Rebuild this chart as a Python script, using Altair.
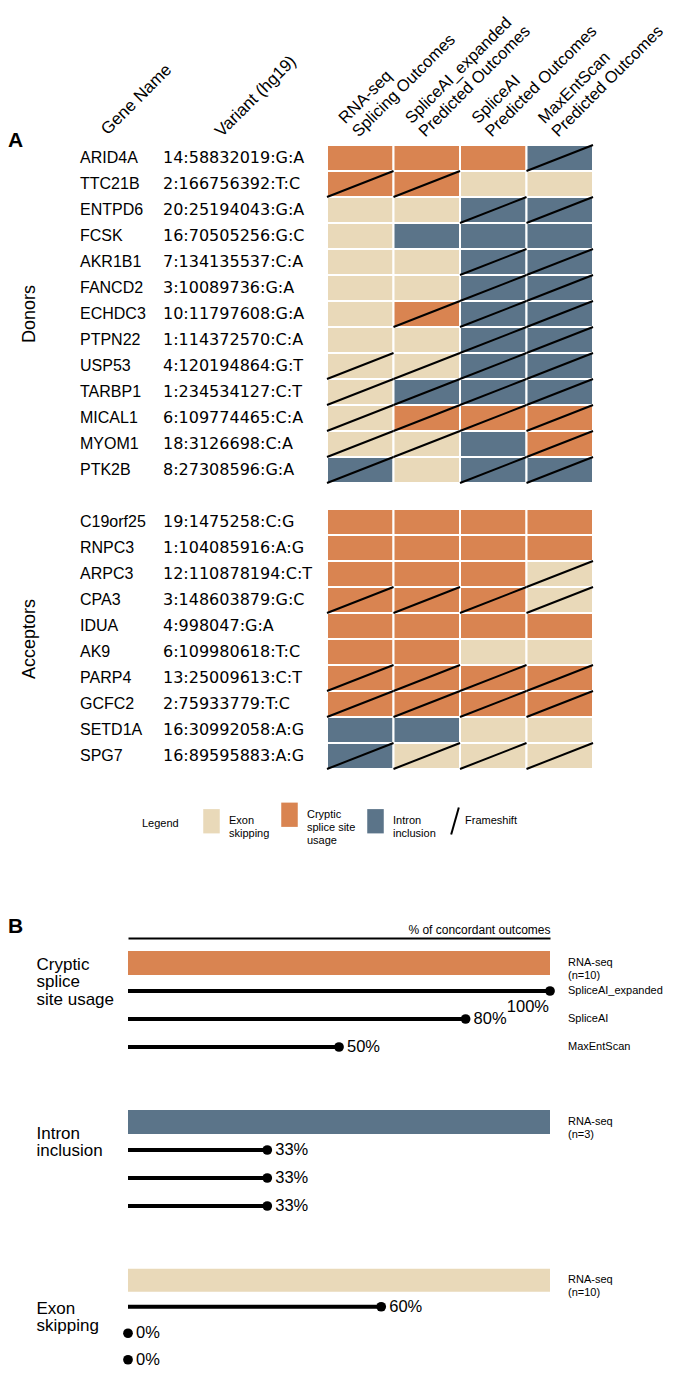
import json
import altair as alt
import pandas as pd

FONT = "Liberation Sans"
VAR_FONT = "DejaVu Sans"

# ---------------- Panel A data ----------------
GROUPS = ["Donors", "Acceptors"]
DONOR_GENES = ["ARID4A", "TTC21B", "ENTPD6", "FCSK", "AKR1B1", "FANCD2", "ECHDC3",
               "PTPN22", "USP53", "TARBP1", "MICAL1", "MYOM1", "PTK2B"]
DONOR_VARIANTS = ["14:58832019:G:A", "2:166756392:T:C", "20:25194043:G:A", "16:70505256:G:C",
                  "7:134135537:C:A", "3:10089736:G:A", "10:11797608:G:A", "1:114372570:C:A",
                  "4:120194864:G:T", "1:234534127:C:T", "6:109774465:C:A", "18:3126698:C:A",
                  "8:27308596:G:A"]
ACCEPTOR_GENES = ["C19orf25", "RNPC3", "ARPC3", "CPA3", "IDUA", "AK9", "PARP4", "GCFC2",
                  "SETD1A", "SPG7"]
ACCEPTOR_VARIANTS = ["19:1475258:C:G", "1:104085916:A:G", "12:110878194:C:T", "3:148603879:G:C",
                     "4:998047:G:A", "6:109980618:T:C", "13:25009613:C:T", "2:75933779:T:C",
                     "16:30992058:A:G", "16:89595883:A:G"]
# E = exon skipping, C = cryptic splice site usage, I = intron inclusion, * = frameshift
# columns: RNA-seq, SpliceAI_expanded, SpliceAI, MaxEntScan
DONOR_OUTCOMES = [
    ["C", "C", "C", "I*"],
    ["C*", "C*", "E", "E"],
    ["E", "E", "I*", "I*"],
    ["E", "I", "I", "I"],
    ["E", "E", "I*", "I*"],
    ["E", "E", "I*", "I*"],
    ["E", "C*", "I*", "I*"],
    ["E", "E", "I*", "I*"],
    ["E*", "E*", "I*", "I*"],
    ["E*", "I*", "I*", "I*"],
    ["E*", "C*", "C*", "C*"],
    ["E*", "E*", "I", "C*"],
    ["I*", "E", "I*", "I*"],
]
ACCEPTOR_OUTCOMES = [
    ["C", "C", "C", "C"],
    ["C", "C", "C", "C"],
    ["C", "C", "C", "E*"],
    ["C*", "C*", "C*", "E*"],
    ["C", "C", "C", "C"],
    ["C", "C", "E", "E"],
    ["C*", "C*", "C*", "C*"],
    ["C*", "C*", "C*", "C*"],
    ["I", "I", "E", "E"],
    ["I*", "E*", "E*", "E*"],
]
OUTCOME_CODES = ["E", "C", "I"]
OUTCOME_NAMES = ["Exon skipping", "Cryptic splice site usage", "Intron inclusion"]
OUTCOME_COLORS = ["#E9D9B9", "#D98451", "#5B7489"]
LEGEND_LINES = [["Exon", "skipping"], ["Cryptic", "splice site", "usage"], ["Intron", "inclusion"]]
LEGEND_TITLE = "Legend"
FRAMESHIFT_LABEL = "Frameshift"
COL_HEADERS = ["Gene Name", "Variant (hg19)"]
METHOD_HEADERS = [["RNA-seq", "Splicing Outcomes"], ["SpliceAI_expanded", "Predicted Outcomes"],
                  ["SpliceAI", "Predicted Outcomes"], ["MaxEntScan", "Predicted Outcomes"]]

# ---------------- Panel B data ----------------
B_GROUPS = ["Cryptic splice site usage", "Intron inclusion", "Exon skipping"]
B_GROUP_LINES = [["Cryptic", "splice", "site usage"], ["Intron", "inclusion"], ["Exon", "skipping"]]
B_RNASEQ_N = [10, 3, 10]
B_RNASEQ_PCT = [100, 100, 100]
B_METHODS = ["RNA-seq", "SpliceAI_expanded", "SpliceAI", "MaxEntScan"]
B_CONCORDANCE = [[100, 80, 50], [33, 33, 33], [60, 0, 0]]
B_AXIS_TITLE = "% of concordant outcomes"

# ---------------- tables ----------------
code_to_name = dict(zip(OUTCOME_CODES, OUTCOME_NAMES))
row_recs, cell_recs = [], []
r = 0
for gi, (grp, genes, variants, outs) in enumerate(zip(
        GROUPS, [DONOR_GENES, ACCEPTOR_GENES], [DONOR_VARIANTS, ACCEPTOR_VARIANTS],
        [DONOR_OUTCOMES, ACCEPTOR_OUTCOMES])):
    if gi > 0:
        r += 1  # blank row between groups
    for g, v, o in zip(genes, variants, outs):
        row_recs.append({"group": grp, "gene": g, "variant": v, "r": r})
        for ci, code in enumerate(o):
            cell_recs.append({"gene": g, "r": r, "ci": ci, "outcome": code_to_name[code[0]],
                              "fs": code.endswith("*"), "fsl": FRAMESHIFT_LABEL})
        r += 1
N_ROWS = r
rows_df = pd.DataFrame(row_recs)
cells_df = pd.DataFrame(cell_recs)

ROW_H = 26
A_H = N_ROWS * ROW_H
YS = alt.Scale(domain=[0, N_ROWS], reverse=True, nice=False, zero=False)


def header_axis(expr, values, offset, padding, size=17):
    return alt.Axis(orient="top", values=values, labelExpr=expr, labelAngle=315,
                    labelAlign="left", labelBaseline="bottom", labelFont=FONT,
                    labelFontSize=size, labelColor="black", labelLineHeight=19,
                    labelOffset=offset, labelPadding=padding, labelOverlap=False,
                    labelFlush=False, labelBound=False, labelLimit=0,
                    domain=False, ticks=False, grid=False, title=None)


grp_chart = alt.Chart(rows_df).transform_calculate(
    rm="datum.r + 0.5"
).transform_aggregate(
    mid="mean(rm)", groupby=["group"]
).mark_text(angle=270, font=FONT, fontSize=18, color="black").encode(
    x=alt.value(22),
    y=alt.Y("mid:Q", scale=YS, axis=None),
    text="group:N",
).properties(
    width=72, height=A_H,
    title=alt.TitleParams("A", anchor="start", font=FONT, fontSize=21, fontWeight="bold",
                          color="black", dy=10),
)

gene_chart = alt.Chart(rows_df).transform_calculate(
    rm="datum.r + 0.5", hx="0"
).mark_text(align="left", baseline="middle", font=FONT, fontSize=16, color="black").encode(
    x=alt.X("hx:Q", scale=alt.Scale(domain=[0, 1], nice=False),
            axis=header_axis(json.dumps(COL_HEADERS[0]), [0], 30, 7)),
    y=alt.Y("rm:Q", scale=YS, axis=None),
    text="gene:N",
).properties(width=83, height=A_H)

var_chart = alt.Chart(rows_df).transform_calculate(
    rm="datum.r + 0.5", hx="0"
).mark_text(align="left", baseline="middle", font=VAR_FONT, fontSize=16, color="black").encode(
    x=alt.X("hx:Q", scale=alt.Scale(domain=[0, 1], nice=False),
            axis=header_axis(json.dumps(COL_HEADERS[1]), [0], 61, 5)),
    y=alt.Y("rm:Q", scale=YS, axis=None),
    text="variant:N",
).properties(width=164, height=A_H)

hdr_expr = json.dumps(METHOD_HEADERS) + "[floor(datum.value)]"
legend_expr = " : ".join(
    f"datum.label == {json.dumps(n)} ? {json.dumps(l)}" for n, l in zip(OUTCOME_NAMES, LEGEND_LINES)
) + " : datum.label"

XH = alt.Scale(domain=[0, len(METHOD_HEADERS)], nice=False, zero=False)
heat_x_axis = header_axis(hdr_expr, [i + 0.3 for i in range(len(METHOD_HEADERS))], 0, 19, 16.5)

heat_base = alt.Chart(cells_df).transform_calculate(
    r1="datum.r + 1", ci1="datum.ci + 1"
)
heat_rect = heat_base.mark_rect(stroke="white", strokeWidth=2).encode(
    x=alt.X("ci:Q", scale=XH, axis=heat_x_axis),
    x2="ci1:Q",
    y=alt.Y("r:Q", scale=YS, axis=None),
    y2="r1:Q",
    fill=alt.Fill("outcome:N", scale=alt.Scale(domain=OUTCOME_NAMES, range=OUTCOME_COLORS),
                  legend=alt.Legend(
                      title=LEGEND_TITLE, titleOrient="left", titleAnchor="middle",
                      titleBaseline="middle", titleFont=FONT, titleFontSize=11,
                      titleFontWeight="normal", titleColor="black", titlePadding=20,
                      orient="none", legendX=134, legendY=657, direction="horizontal",
                      symbolType="M-0.68,-1H0.68V1H-0.68Z", symbolSize=590,
                      symbolStrokeWidth=0, symbolOpacity=1,
                      labelExpr=legend_expr, labelFont=FONT, labelFontSize=11,
                      labelColor="black", labelOffset=5, columnPadding=7, labelLimit=0)),
)
heat_rule = heat_base.transform_filter("datum.fs").mark_rule(strokeWidth=2).encode(
    x=alt.X("ci:Q", scale=XH, axis=heat_x_axis),
    x2="ci1:Q",
    y=alt.Y("r1:Q", scale=YS, axis=None),
    y2="r:Q",
    stroke=alt.Stroke("fsl:N", scale=alt.Scale(domain=[FRAMESHIFT_LABEL], range=["black"]),
                      legend=alt.Legend(
                          title=None, orient="none", legendX=438, legendY=667,
                          symbolType="M-0.5,1.76L0.5,-1.76", symbolSize=234,
                          symbolStrokeWidth=2, labelFont=FONT, labelFontSize=11,
                          labelColor="black", labelOffset=1)),
)
heat_chart = alt.layer(heat_rect, heat_rule).properties(width=266, height=A_H)

panel_a = alt.hconcat(grp_chart, gene_chart, var_chart, heat_chart, spacing=0, bounds="flush")

# ---------------- Panel B ----------------
B_LEFT = 120          # room for the group names inside each panel-B chart
B_PLOT_W = 422
XB = alt.Scale(domain=[0, 100], range=[B_LEFT, B_LEFT + B_PLOT_W], nice=False, zero=True)
B_TITLE_Y = [20, 30, 46]
B_STEP = [28, 28, 26.5]


def b_chart(gi):
    recs = [{"method": B_METHODS[0], "value": B_RNASEQ_PCT[gi], "kind": "bar",
             "group": B_GROUPS[gi], "rlabel": f"{B_METHODS[0]}\n(n={B_RNASEQ_N[gi]})"}]
    for mi, m in enumerate(B_METHODS[1:]):
        recs.append({"method": m, "value": B_CONCORDANCE[gi][mi], "kind": "pred",
                     "group": B_GROUPS[gi], "rlabel": m if gi == 0 else ""})
    df = pd.DataFrame(recs)
    if gi == 0:
        xaxis = alt.Axis(orient="top", title=B_AXIS_TITLE, titleAnchor="end", titleFont=FONT,
                         titleFontSize=12, titleFontWeight="normal", titleColor="black",
                         titlePadding=2, labels=False, ticks=False, grid=False,
                         domain=True, domainColor="black", domainWidth=2, offset=11)
    else:
        xaxis = None
    yenc = alt.Y("method:N", sort=B_METHODS,
                 scale=alt.Scale(domain=B_METHODS, paddingInner=0.14, paddingOuter=0.07),
                 axis=alt.Axis(title=B_GROUP_LINES[gi], titleAngle=0, titleAlign="left",
                               titleBaseline="alphabetic", titleX=28, titleY=B_TITLE_Y[gi],
                               titleFont=FONT, titleFontSize=17, titleFontWeight="normal",
                               titleColor="black", titleLineHeight=17.5, labels=False,
                               ticks=False, domain=False, grid=False))
    base = alt.Chart(df).transform_calculate(pct="datum.value + '%'")
    bar = base.transform_filter("datum.kind == 'bar'").mark_bar().encode(
        x=alt.X("value:Q", scale=XB, axis=xaxis),
        y=yenc,
        fill=alt.Fill("group:N", scale=alt.Scale(domain=OUTCOME_NAMES, range=OUTCOME_COLORS),
                      legend=None),
    )
    pred = base.transform_filter("datum.kind == 'pred'")
    stem = pred.mark_rule(strokeWidth=4, color="black").encode(
        x=alt.X("value:Q", scale=XB, axis=xaxis), x2=alt.datum(0), y=yenc)
    dot = pred.mark_circle(size=95, color="black", opacity=1).encode(
        x=alt.X("value:Q", scale=XB, axis=xaxis), y=yenc)
    pct = pred.transform_filter("datum.value < 100").mark_text(
        align="left", baseline="middle", dx=8, font=FONT, fontSize=16.5, color="black"
    ).encode(x=alt.X("value:Q", scale=XB, axis=xaxis), y=yenc, text="pct:N")
    pct_full = pred.transform_filter("datum.value >= 100").mark_text(
        align="right", baseline="middle", dx=-1, dy=16, font=FONT, fontSize=16.5, color="black"
    ).encode(x=alt.X("value:Q", scale=XB, axis=xaxis), y=yenc, text="pct:N")
    rlab = base.mark_text(align="left", baseline="middle", dx=18, lineBreak="\n",
                          lineHeight=12.5, font=FONT, fontSize=11, color="black").encode(
        x=alt.datum(100), y=yenc, text="rlabel:N")
    layers = [bar, stem, dot, pct, pct_full, rlab]
    ch = alt.layer(*layers).properties(width=B_LEFT + B_PLOT_W,
                                       height=B_STEP[gi] * len(B_METHODS))
    if gi == 0:
        ch = ch.properties(title=alt.TitleParams("B", anchor="start", frame="group", font=FONT,
                                                 fontSize=21, fontWeight="bold", color="black",
                                                 dy=18))
    return ch


panel_b = alt.vconcat(*[b_chart(i) for i in range(3)], spacing=47, bounds="flush")

chart = alt.vconcat(panel_a, panel_b, spacing=146).properties(
    padding={"left": 0, "top": 0, "right": 0, "bottom": -4}
).configure(font=FONT).configure_view(strokeWidth=0, stroke=None)

chart.save("out.html", embed_options={"renderer": "svg", "actions": False})
